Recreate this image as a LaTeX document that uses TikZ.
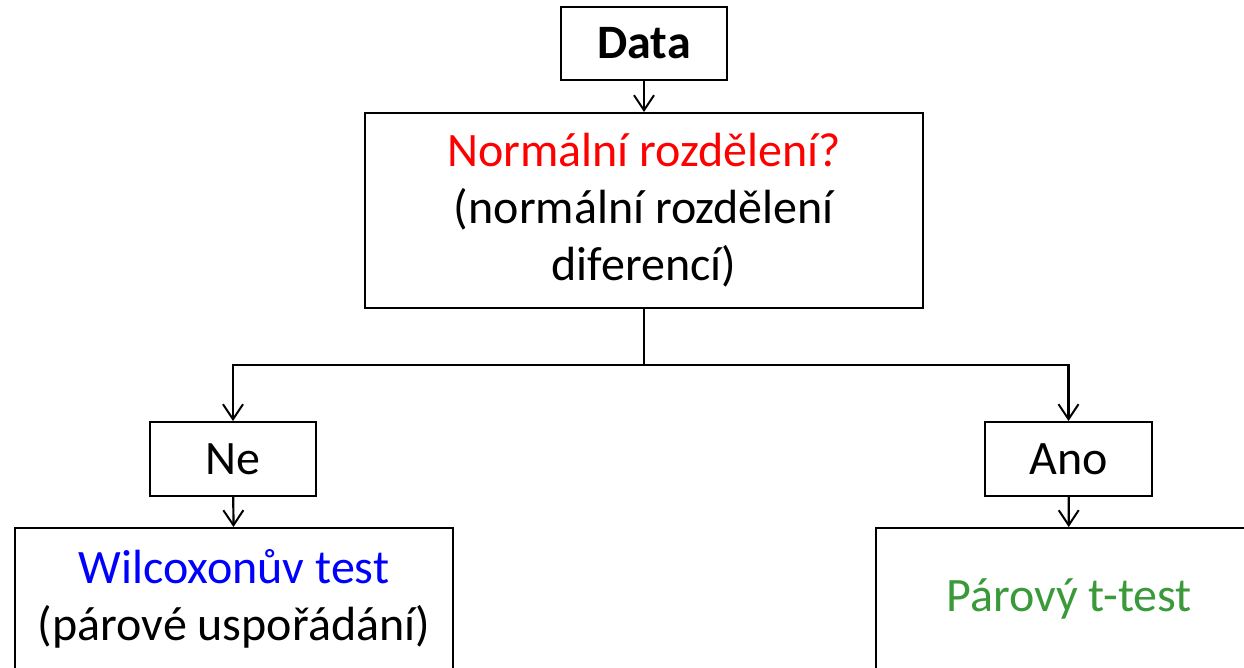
\documentclass[tikz,border=0pt]{standalone}
\usepackage{fontspec}
\setmainfont{Carlito}
\usetikzlibrary{arrows.meta}
\definecolor{myred}{RGB}{255,0,0}
\definecolor{myblue}{RGB}{0,0,255}
\definecolor{mygreen}{RGB}{58,154,58}
\begin{document}
\begin{tikzpicture}[x=1pt,y=-1pt,
  box/.style={draw=black,line width=2pt,inner sep=0pt,align=center,
    font=\fontsize{48}{57}\selectfont},
  conn/.style={line width=2.2pt},
  arr/.style={conn,-{Straight Barb[length=15pt,width=20pt,line width=2pt]}}]
\useasboundingbox (0,0) rectangle (1244,667);
\node[box,minimum width=166pt,minimum height=73pt] (data) at (644,43.5) {\bfseries Data};
\node[box,minimum width=558pt,minimum height=195pt] (norm) at (644,210.5)
  {\textcolor{myred}{Normální rozdělení?}\\(normální rozdělení\\diferencí)};
\node[box,minimum width=166pt,minimum height=74pt] (ne) at (233,459) {Ne};
\node[box,minimum width=167pt,minimum height=74pt] (ano) at (1068.5,459) {Ano};
\node[box,minimum width=438pt,minimum height=142pt] (wil) at (234,599)
  {\textcolor{myblue}{Wilcoxonův test}\\(párové uspořádání)};
\node[box,minimum width=386pt,minimum height=142pt] (par) at (1069,599)
  {\textcolor{mygreen}{Párový t-test}};
\coordinate (split) at (644,365);
\draw[arr] (data) -- (norm);
\draw[conn] (norm.south) -- (split);
\draw[arr] (split) -| (ne.north);
\draw[arr] (split) -| (ano.north);
\draw[arr] (ne) -- (wil);
\draw[arr] (ano) -- (par);
\end{tikzpicture}
\end{document}
